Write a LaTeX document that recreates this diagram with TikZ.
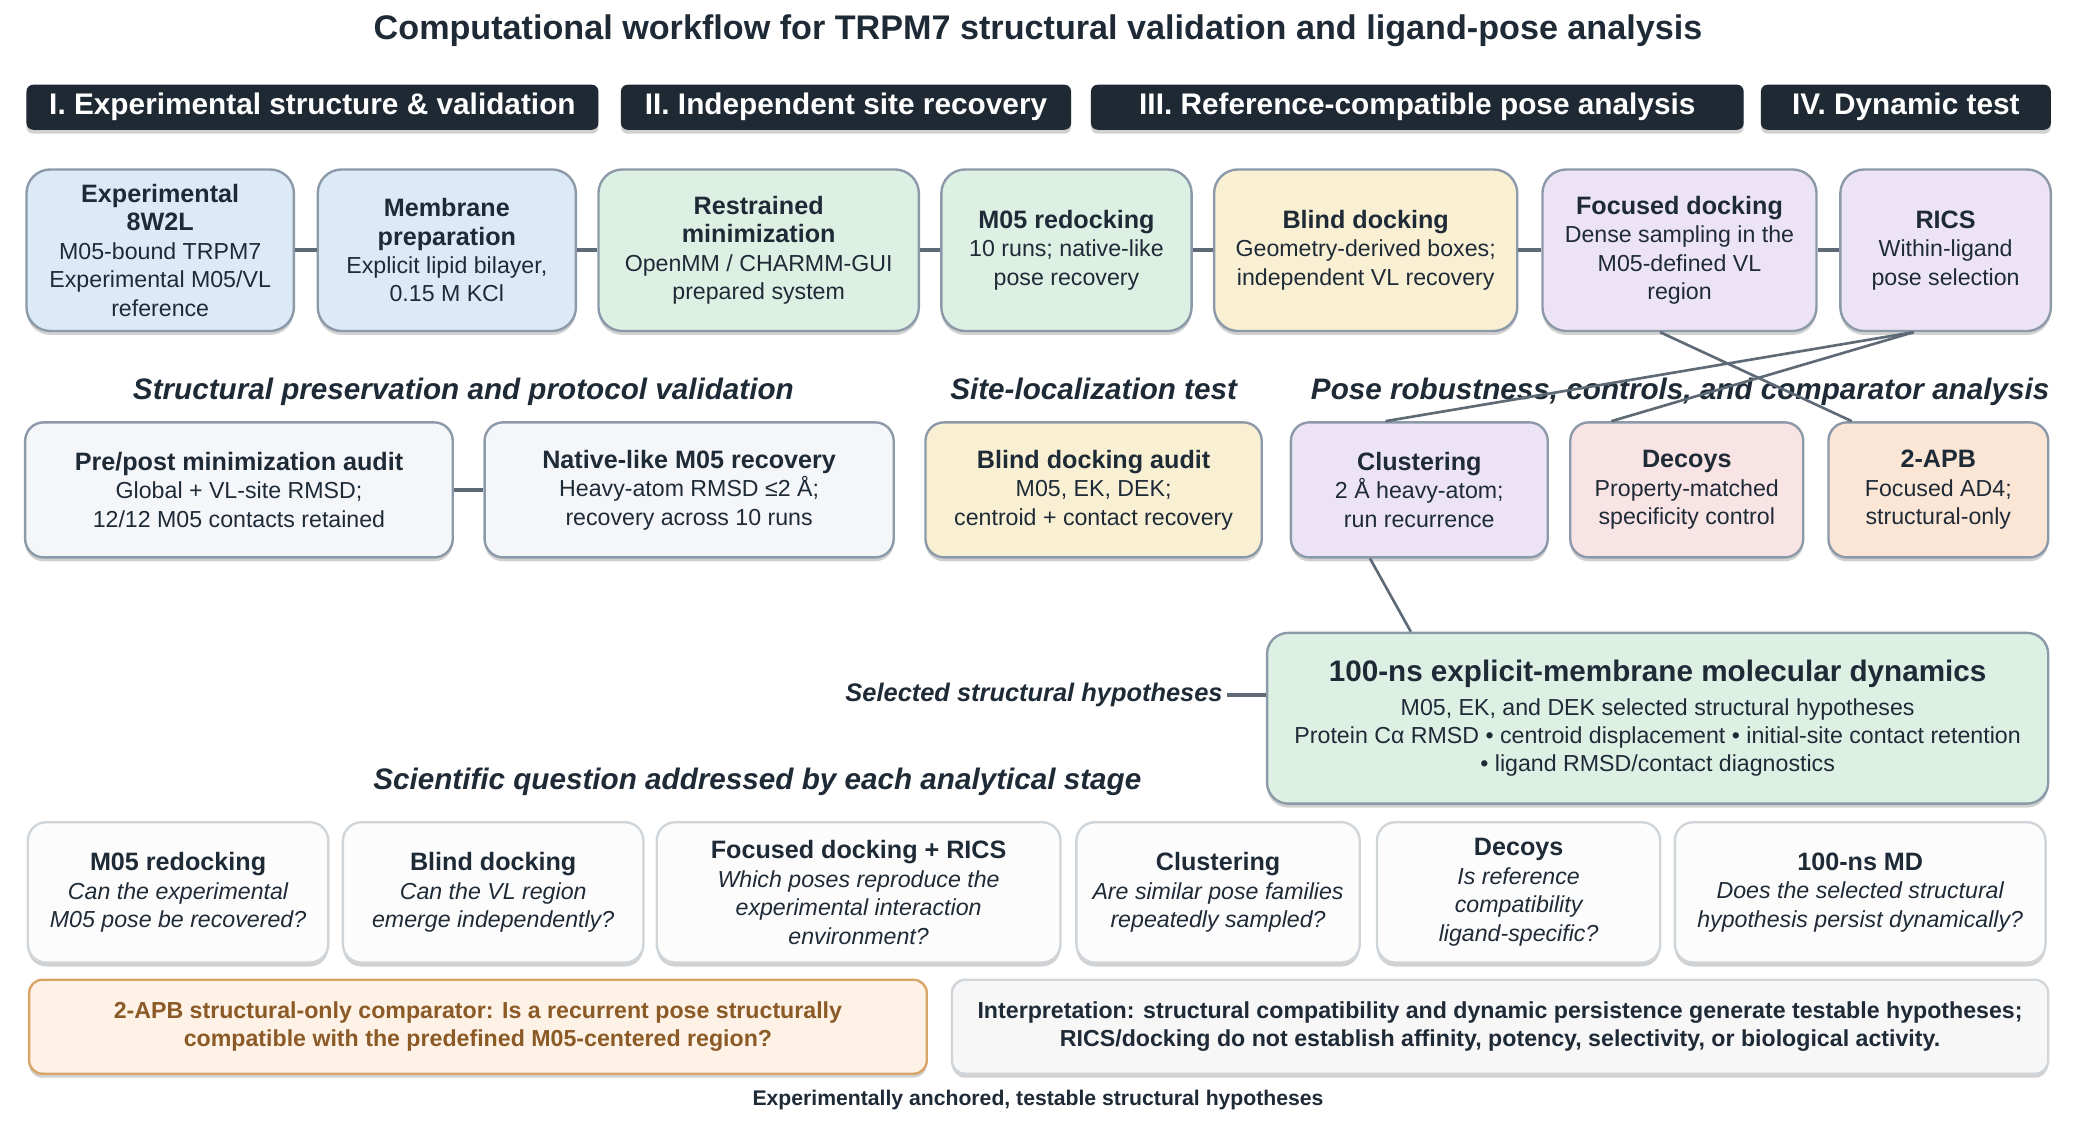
\documentclass[tikz,border=0pt]{standalone}
\usepackage{fontspec}
\setmainfont{Liberation Sans}
\usetikzlibrary{calc}
\usetikzlibrary{shadows}
\definecolor{mdark}{HTML}{1F2933}
\definecolor{mtext}{HTML}{1F2A37}
\definecolor{mline}{HTML}{5E6A76}
\definecolor{mborder}{HTML}{8C99A8}
\definecolor{mblue}{HTML}{DCE9F6}
\definecolor{mgreen}{HTML}{DDF0E4}
\definecolor{myellow}{HTML}{F9F0D3}
\definecolor{mlilac}{HTML}{ECE4F4}
\definecolor{mpink}{HTML}{F8E4E4}
\definecolor{mpeach}{HTML}{FBE6D6}
\definecolor{mgray}{HTML}{F4F6F9}
\definecolor{mwhite}{HTML}{FCFCFC}
\definecolor{mqborder}{HTML}{D0D5DA}
\definecolor{mcream}{HTML}{FDF2E5}
\definecolor{mtan}{HTML}{D8A467}
\definecolor{mbrown}{HTML}{8B5A26}
\definecolor{minterp}{HTML}{F7F7F8}
\newcommand{\boxtitle}{\fontsize{19}{22}\selectfont\bfseries\upshape}
\newcommand{\boxbody}{\fontsize{17.5}{21.5}\selectfont}
\tikzset{boxshadow/.style = {drop shadow={shadow xshift=0pt, shadow yshift=-3pt, opacity=0.3, fill=black!60}}}
\tikzset{phase/.style = {boxshadow, fill=mdark, text=white, rounded corners=5pt, minimum height=34pt,
                         inner sep=0pt, font=\fontsize{22.5}{26}\selectfont\bfseries}}
\tikzset{stage/.style = {boxshadow, draw=mborder, line width=1.8pt, rounded corners=18pt, minimum height=122pt,
                         inner sep=0pt, align=center, text=mtext, font=\boxbody}}
\tikzset{audit/.style = {stage, rounded corners=14pt, minimum height=102pt}}
\tikzset{quest/.style = {stage, draw=mqborder, fill=mwhite, rounded corners=14pt, minimum height=106pt,
                         font=\boxbody\itshape}}
\tikzset{note/.style = {boxshadow, line width=1.8pt, rounded corners=10pt, minimum height=71pt,
                        align=center, font=\boxbody\bfseries}}
\tikzset{seclabel/.style = {text=mtext, text height=16pt, text depth=5pt,
                            font=\fontsize{22.4}{26}\selectfont\bfseries\itshape}}
\tikzset{link/.style = {draw=mline, line width=3pt}}
\tikzset{cross/.style = {draw=mline, line width=2pt}}

\begin{document}
\begin{tikzpicture}[x=1pt, y=-1pt]
    \useasboundingbox (0,0) rectangle (1568,854);

    \node (title) at (784,23) [text=mtext, font=\fontsize{25.8}{30}\selectfont\bfseries]
      {Computational workflow for TRPM7 structural validation and ligand-pose analysis};

    \node (ph1) at (236,81) [phase, minimum width=432pt] {I. Experimental structure \& validation};
    \node (ph2) at (639,81) [phase, minimum width=340pt] {II. Independent site recovery};
    \node (ph3) at (1070.5,81) [phase, minimum width=493pt] {III. Reference-compatible pose analysis};
    \node (ph4) at (1439.5,81) [phase, minimum width=219pt] {IV. Dynamic test};

    \node (exp) at (121,189) [stage, fill=mblue, minimum width=202pt]
      {{\boxtitle Experimental}\\{\boxtitle 8W2L}\\M05-bound TRPM7\\Experimental M05/VL\\reference};
    \node (mem) at (337.5,189) [stage, fill=mblue, minimum width=195pt]
      {{\boxtitle Membrane}\\{\boxtitle preparation}\\Explicit lipid bilayer,\\0.15 M KCl};
    \node (mini) at (573,189) [stage, fill=mgreen, minimum width=242pt]
      {{\boxtitle Restrained}\\{\boxtitle minimization}\\OpenMM / CHARMM-GUI\\prepared system};
    \node (redock) at (805.5,189) [stage, fill=mgreen, minimum width=189pt]
      {{\boxtitle M05 redocking}\\10 runs; native-like\\pose recovery};
    \node (blind) at (1031.5,189) [stage, fill=myellow, minimum width=229pt]
      {{\boxtitle Blind docking}\\Geometry-derived boxes;\\independent VL recovery};
    \node (focus) at (1268.5,189) [stage, fill=mlilac, minimum width=207pt]
      {{\boxtitle Focused docking}\\Dense sampling in the\\M05-defined VL\\region};
    \node (rics) at (1469.5,189) [stage, fill=mlilac, minimum width=159pt]
      {{\boxtitle RICS}\\Within-ligand\\pose selection};

    \draw [link] (exp) -- (mem) (mem) -- (mini) (mini) -- (redock) (redock) -- (blind)
                 (blind) -- (focus) (focus) -- (rics);

    \node (sec1) at (350,296) [seclabel] {Structural preservation and protocol validation};
    \node (sec2) at (826,296) [seclabel] {Site-localization test};
    \node (sec3) at (1269,296) [seclabel] {Pose robustness, controls, and comparator analysis};

    \node (prepost) at (180.5,370) [audit, fill=mgray, minimum width=323pt]
      {{\boxtitle Pre/post minimization audit}\\Global + VL-site RMSD;\\12/12 M05 contacts retained};
    \node (native) at (520.5,370) [audit, fill=mgray, minimum width=309pt]
      {{\boxtitle Native-like M05 recovery}\\Heavy-atom RMSD ≤2 Å;\\recovery across 10 runs};
    \node (baudit) at (826,370) [audit, fill=myellow, minimum width=254pt]
      {{\boxtitle Blind docking audit}\\M05, EK, DEK;\\centroid + contact recovery};
    \node (clust) at (1072,370) [audit, fill=mlilac, minimum width=194pt]
      {{\boxtitle Clustering}\\2 Å heavy-atom;\\run recurrence};
    \node (decoy) at (1274,370) [audit, fill=mpink, minimum width=176pt]
      {{\boxtitle Decoys}\\Property-matched\\specificity control};
    \node (apb) at (1464,370) [audit, fill=mpeach, minimum width=166pt]
      {{\boxtitle 2-APB}\\Focused AD4;\\structural-only};

    \draw [link] (prepost) -- (native);

    \draw [cross] ($(focus.south west)!.43!(focus.south east)$) -- ($(apb.north west)!.11!(apb.north east)$);
    \draw [cross] ($(rics.south west)!.35!(rics.south east)$) -- ($(clust.north west)!.37!(clust.north east)$);
    \draw [cross] ($(rics.south west)!.35!(rics.south east)$) -- ($(decoy.north west)!.18!(decoy.north east)$);

    \node (md) at (1252,542.5) [stage, fill=mgreen, rounded corners=16pt, minimum width=590pt, minimum height=129pt]
      {{\fontsize{22.4}{26}\selectfont\bfseries 100-ns explicit-membrane molecular dynamics}\\[4pt]
       M05, EK, and DEK selected structural hypotheses\\
       Protein Cα RMSD • centroid displacement • initial-site contact retention\\
       • ligand RMSD/contact diagnostics};

    \draw [cross] ($(clust.south west)!.31!(clust.south east)$) -- ($(md.north west)!.185!(md.north east)$);

    \node (sel) at (927,525) [anchor=east, text=mtext, font=\fontsize{19.2}{23}\selectfont\bfseries\itshape]
      {Selected structural hypotheses};
    \draw [link] (sel.east) -- (sel.east -| md.west);

    \node (sec4) at (572,591) [seclabel] {Scientific question addressed by each analytical stage};

    \node (q1) at (134.5,674) [quest, minimum width=227pt]
      {{\boxtitle M05 redocking}\\Can the experimental\\M05 pose be recovered?};
    \node (q2) at (372.5,674) [quest, minimum width=227pt]
      {{\boxtitle Blind docking}\\Can the VL region\\emerge independently?};
    \node (q3) at (648.5,674) [quest, minimum width=305pt]
      {{\boxtitle Focused docking + RICS}\\Which poses reproduce the\\experimental interaction\\environment?};
    \node (q4) at (920,674) [quest, minimum width=214pt]
      {{\boxtitle Clustering}\\Are similar pose families\\repeatedly sampled?};
    \node (q5) at (1147,674) [quest, minimum width=214pt]
      {{\boxtitle Decoys}\\Is reference\\compatibility\\ligand-specific?};
    \node (q6) at (1405,674) [quest, minimum width=280pt]
      {{\boxtitle 100-ns MD}\\Does the selected structural\\hypothesis persist dynamically?};

    \node (cmp) at (361,775.5) [note, draw=mtan, fill=mcream, text=mbrown, minimum width=678pt]
      {2-APB structural-only comparator: Is a recurrent pose structurally\\compatible with the predefined M05-centered region?};
    \node (interp) at (1133,775.5) [note, draw=mqborder, fill=minterp, text=mtext, minimum width=828pt]
      {Interpretation: structural compatibility and dynamic persistence generate testable hypotheses;\\RICS/docking do not establish affinity, potency, selectivity, or biological activity.};

    \node (foot) at (784,831) [text=mtext, font=\fontsize{16}{19}\selectfont\bfseries]
      {Experimentally anchored, testable structural hypotheses};
\end{tikzpicture}
\end{document}
